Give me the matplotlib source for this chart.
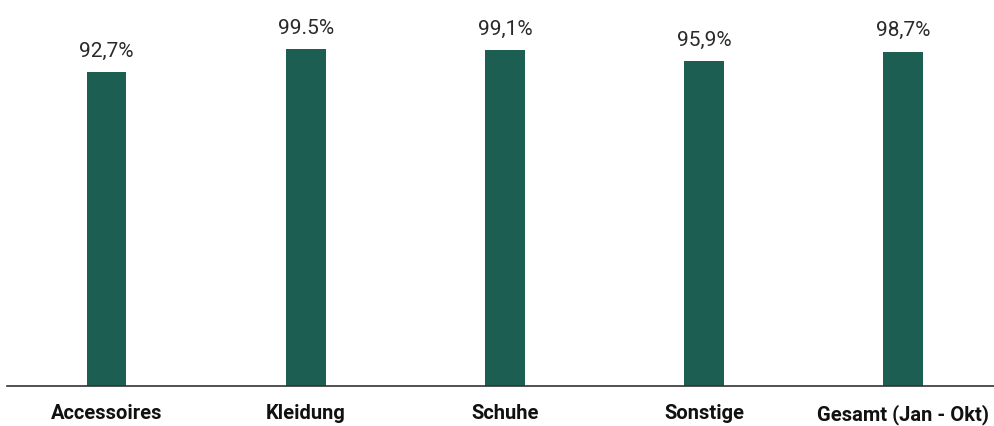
import numpy as np
import matplotlib.pyplot as plt

categories = ["Accessoires", "Kleidung", "Schuhe", "Sonstige", "Gesamt (Jan - Okt)"]
values = [92.7, 99.5, 99.1, 95.9, 98.7]
value_labels = ["92,7%", "99.5%", "99,1%", "95,9%", "98,7%"]

plt.rcParams['font.family'] = ['Roboto', 'DejaVu Sans']

fig = plt.figure(figsize=(9.95, 4.26), dpi=100)
ax = fig.add_axes([0.007, 0.094, 0.993, 0.906])

x = np.arange(len(categories))
ax.bar(x, values, width=0.2, color='#1c5e52')

for xi, v, lab in zip(x, values, value_labels):
    ax.text(xi, v + 4.6, lab, ha='center', va='baseline', fontsize=15,
            fontweight='normal', color='#2a2a2a')

ax.set_xlim(-0.5, 4.46)
ax.set_ylim(0, 114)
ax.set_yticks([])
ax.set_xticks(x)
ax.set_xticklabels(categories, fontsize=14.5, fontweight='bold', color='#111111')
ax.tick_params(axis='x', length=0, pad=13)
for s in ['top', 'right', 'left']:
    ax.spines[s].set_visible(False)
ax.spines['bottom'].set_color('#333333')
ax.spines['bottom'].set_linewidth(1.2)

fig.savefig('out.png', dpi=100)
